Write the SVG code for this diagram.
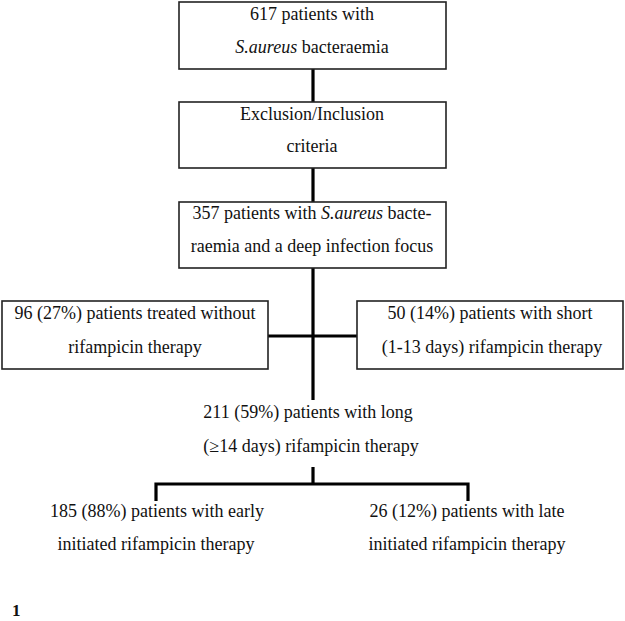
<svg xmlns="http://www.w3.org/2000/svg" width="625" height="621" viewBox="0 0 625 621">
<style>
.box{fill:#fff;stroke:#222;stroke-width:1.6}
.t{font-family:"Liberation Serif","Times New Roman",serif;font-size:18px;fill:#111;text-anchor:middle}
.c{stroke:#000;stroke-width:3.2;fill:none}
</style>
<rect width="625" height="621" fill="#fff"/>
<g id="connectors">
<line class="c" x1="313" y1="69" x2="313" y2="102"/>
<line class="c" x1="313" y1="168" x2="313" y2="202"/>
<line class="c" x1="313" y1="268" x2="313" y2="400"/>
<line class="c" x1="268" y1="336" x2="357" y2="336"/>
<line class="c" x1="313" y1="467" x2="313" y2="485"/>
<polyline class="c" points="156,501 156,484 468,484 468,501"/>
</g>
<g id="n1">
<rect class="box" x="179" y="2" width="267" height="67"/>
<text class="t" x="312" y="20">617 patients with</text>
<text class="t" x="312" y="53"><tspan font-style="italic">S.aureus</tspan> bacteraemia</text>
</g>
<g id="n2">
<rect class="box" x="179" y="102" width="267" height="66"/>
<text class="t" x="312" y="120">Exclusion/Inclusion</text>
<text class="t" x="312" y="152">criteria</text>
</g>
<g id="n3">
<rect class="box" x="179" y="202" width="267" height="66"/>
<text class="t" x="312" y="219">357 patients with <tspan font-style="italic">S.aureus</tspan> bacte-</text>
<text class="t" x="312" y="252">raemia and a deep infection focus</text>
</g>
<g id="n4">
<rect class="box" x="2" y="301" width="266" height="68"/>
<text class="t" x="135" y="319">96 (27%) patients treated without</text>
<text class="t" x="135" y="353">rifampicin therapy</text>
</g>
<g id="n5">
<rect class="box" x="357" y="301" width="266" height="68"/>
<text class="t" x="490" y="319">50 (14%) patients with short</text>
<text class="t" x="492" y="353">(1-13 days) rifampicin therapy</text>
</g>
<g id="n6">
<text class="t" x="308" y="418">211 (59%) patients with long</text>
<text class="t" x="311" y="452">(≥14 days) rifampicin therapy</text>
</g>
<g id="n7">
<text class="t" x="157" y="517">185 (88%) patients with early</text>
<text class="t" x="156" y="550">initiated rifampicin therapy</text>
</g>
<g id="n8">
<text class="t" x="467" y="517">26 (12%) patients with late</text>
<text class="t" x="467" y="550">initiated rifampicin therapy</text>
</g>
<text x="12" y="616" font-family="Liberation Serif, serif" font-size="17" font-weight="bold" fill="#111">1</text>
</svg>
